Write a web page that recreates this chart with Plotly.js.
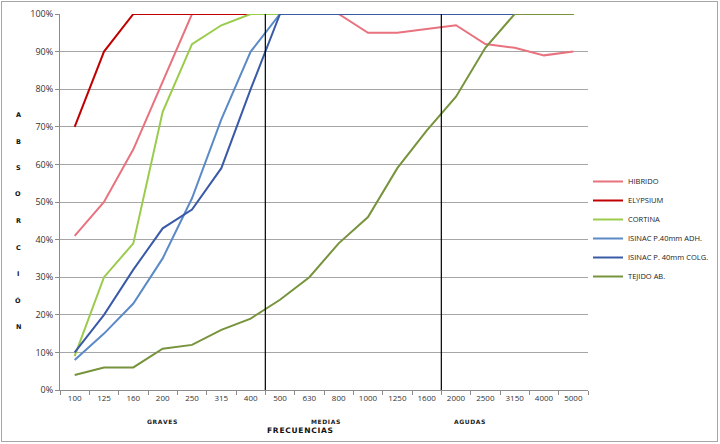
<!DOCTYPE html>
<html>
<head>
<meta charset="utf-8">
<script src="https://cdn.plot.ly/plotly-3.0.1.min.js"></script>
<style>
html,body{margin:0;padding:0;background:#fff;}
#chart{position:absolute;left:0;top:0;width:720px;height:444px;}
#frame{position:absolute;left:1px;top:1px;width:717px;height:441px;border:1px solid #a6a6a6;box-sizing:border-box;pointer-events:none;}
</style>
</head>
<body>
<div id="chart"></div>
<div id="frame"></div>
<script>
// ---- data ----
const frequencies = ['100','125','160','200','250','315','400','500','630','800','1000','1250','1600','2000','2500','3150','4000','5000'];
const hibrido   = [41, 50, 64, 82, 100, 100, 100, 100, 100, 100, 95, 95, 96, 97, 92, 91, 89, 90];
const elypsium  = [70, 90, 100, 100, 100, 100, 100, 100, 100, 100, 100, 100, 100, 100, 100, 100, 100, 100];
const cortina   = [9, 30, 39, 74, 92, 97, 100, 100, 100, 100, 100, 100, 100, 100, 100, 100, 100, 100];
const isinacAdh = [8, 15, 23, 35, 51, 72, 90, 100, 100, 100, 100, 100, 100, 100, 100, 100, 100, 100];
const isinacColg= [10, 20, 32, 43, 48, 59, 80, 100, 100, 100, 100, 100, 100, 100, 100, 100, 100, 100];
const tejido    = [4, 6, 6, 11, 12, 16, 19, 24, 30, 39, 46, 59, 69, 78, 91, 100, 100, 100];
const seriesNames = ['HIBRIDO','ELYPSIUM','CORTINA','ISINAC P.40mm ADH.','ISINAC P. 40mm COLG.','TEJIDO AB.'];
const bandNames = ['GRAVES','MEDIAS','AGUDAS'];
const xTitle = 'FRECUENCIAS';
const yTitle = ['A','B','S','O','R','C','I','Ó','N'];

const colors = ['#E8727E','#C00000','#9BCB4B','#5B8AC7','#3A5AA8','#77933C'];
const seriesValues = [hibrido, elypsium, cortina, isinacAdh, isinacColg, tejido];

const traces = seriesValues.map((vals, i) => ({
  type: 'scatter', mode: 'lines', x: frequencies, y: vals, name: seriesNames[i],
  line: {color: colors[i], width: 2}, hoverinfo: 'skip'
}));

const spaced = s => s.split('').join('\u200A');

const L = 60, R = 591, T = 14, B = 390;
const px2x = p => (p - L) / (R - L);
const py2y = p => (B - p) / (B - T);

const annotations = [];
const bandPx = [163, 327, 472];
bandNames.forEach((t, i) => annotations.push({
  text: spaced(t), xref: 'paper', yref: 'paper', x: px2x(bandPx[i]), y: py2y(421),
  showarrow: false, xanchor: 'center', yanchor: 'middle',
  font: {family: 'DejaVu Sans', size: 6, color: '#222', weight: 'bold'}
}));
annotations.push({
  text: spaced(xTitle), xref: 'paper', yref: 'paper', x: px2x(301), y: py2y(430),
  showarrow: false, xanchor: 'center', yanchor: 'middle',
  font: {family: 'DejaVu Sans', size: 7.5, color: '#111', weight: 'bold'}
});
yTitle.forEach((ch, i) => annotations.push({
  text: ch, xref: 'paper', yref: 'paper', x: px2x(18), y: py2y(115 + i * 26.5),
  showarrow: false, xanchor: 'center', yanchor: 'middle',
  font: {family: 'DejaVu Sans', size: 6.5, color: '#111', weight: 'bold'}
}));

const shapes = [6.5, 12.5].map(xv => ({
  type: 'line', xref: 'x', yref: 'paper', x0: xv, x1: xv, y0: 0, y1: 1,
  line: {color: '#000', width: 1.2}
}));

const layout = {
  width: 720, height: 444,
  margin: {l: L, r: 720 - R, t: T, b: 444 - B},
  paper_bgcolor: '#fff', plot_bgcolor: '#fff',
  font: {family: 'Open Sans, Liberation Sans, sans-serif', color: '#333'},
  showlegend: true,
  legend: {
    xref: 'container', yref: 'container',
    x: 588 / 720, xanchor: 'left', y: 1 - 167 / 444, yanchor: 'top',
    font: {size: 7.5, color: '#222'}, bgcolor: 'rgba(0,0,0,0)', itemwidth: 30,
    tracegroupgap: 0
  },
  xaxis: {
    type: 'category', range: [-0.5, 17.5], showgrid: false,
    showline: true, linecolor: '#8c8c8c', linewidth: 1,
    ticks: 'outside', tickson: 'boundaries', ticklen: 4, tickcolor: '#8c8c8c',
    tickfont: {size: 8, color: '#333'}, fixedrange: true
  },
  yaxis: {
    range: [0, 100], dtick: 10, ticksuffix: '%',
    showgrid: true, gridcolor: '#a6a6a6', gridwidth: 1,
    showline: true, linecolor: '#8c8c8c', linewidth: 1,
    ticks: 'outside', ticklen: 4, tickcolor: '#8c8c8c',
    tickfont: {size: 9, color: '#333'}, zeroline: false, fixedrange: true
  },
  annotations: annotations,
  shapes: shapes
};

Plotly.newPlot('chart', traces, layout, {staticPlot: true, displayModeBar: false});
</script>
</body>
</html>
